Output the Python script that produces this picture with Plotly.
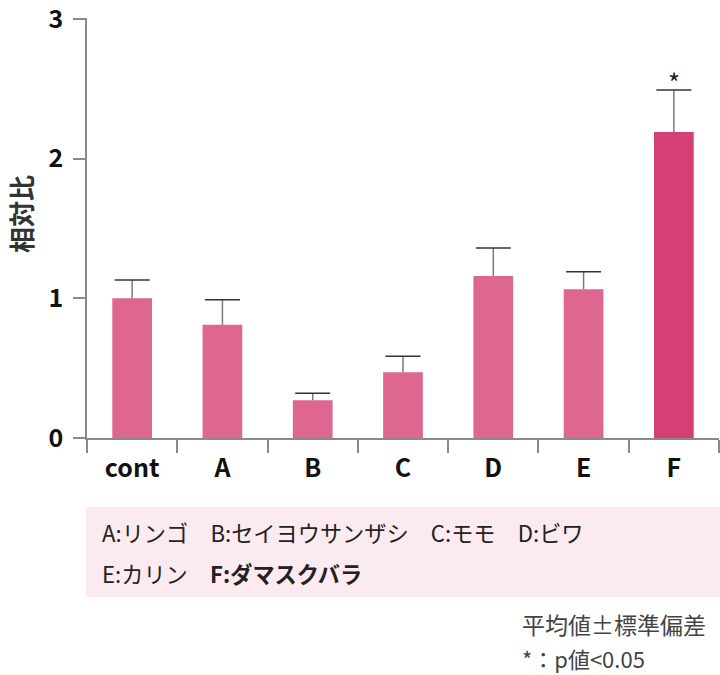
import plotly.graph_objects as go

categories = ["cont", "A", "B", "C", "D", "E", "F"]
means = [1.0, 0.81, 0.27, 0.47, 1.16, 1.065, 2.19]
sd_upper = [0.13, 0.18, 0.05, 0.115, 0.20, 0.125, 0.30]
bar_colors = ["#DD6791", "#DD6791", "#DD6791", "#DD6791", "#DD6791", "#DD6791", "#D43F76"]
y_ticks = [0, 1, 2, 3]

JP = "Noto Sans CJK JP"
L, T, B = 87, 18, 438
PW, PH = 632, 420

def px(xp):
    return (xp - L) / PW

def py(yp):
    return (B - yp) / PH

fig = go.Figure()
fig.add_trace(go.Bar(
    x=categories, y=means, width=0.44,
    marker=dict(color=bar_colors, line=dict(width=0)),
    error_y=dict(type="data", symmetric=False, array=sd_upper,
                 arrayminus=[0] * len(means), color="#7a7a7a", thickness=1.5, width=0),
))
# caps on top of error bars
tops = [m + s for m, s in zip(means, sd_upper)]
fig.add_trace(go.Scatter(
    x=categories, y=tops, mode="markers",
    marker=dict(symbol="line-ew", size=25, line=dict(width=1.5, color="#333")),
    hoverinfo="skip",
))

fig.add_annotation(x="F", y=tops[6], text="*", showarrow=False,
                   yanchor="middle", yshift=9, font=dict(family=JP, size=26, color="#222"))

# y-axis title
fig.add_annotation(xref="paper", yref="paper", x=px(20), y=py(214), textangle=-90,
                   text="<b>相対比</b>", showarrow=False, xanchor="center", yanchor="middle",
                   font=dict(family=JP, size=26, color="#333"))

# legend box
fig.add_shape(type="rect", xref="paper", yref="paper", x0=px(86), x1=px(722),
              y0=py(597), y1=py(507), fillcolor="#FBEAEF", line=dict(width=0), layer="below")

fig.add_annotation(xref="paper", yref="paper", x=px(100), y=py(532),
                   xanchor="left", yanchor="middle", showarrow=False,
                   text="A:リンゴ　B:セイヨウサンザシ　C:モモ　D:ビワ",
                   font=dict(family=JP, size=22.2, color="#222"))
fig.add_annotation(xref="paper", yref="paper", x=px(100), y=py(573),
                   xanchor="left", yanchor="middle", showarrow=False,
                   text="E:カリン　<b>F:ダマスクバラ</b>",
                   font=dict(family=JP, size=22.2, color="#222"))
fig.add_annotation(xref="paper", yref="paper", x=px(520), y=py(624),
                   xanchor="left", yanchor="middle", showarrow=False,
                   text="平均値±標準偏差",
                   font=dict(family=JP, size=23, color="#444"))
fig.add_annotation(xref="paper", yref="paper", x=px(520), y=py(658),
                   xanchor="left", yanchor="middle", showarrow=False,
                   text="*：p値<0.05",
                   font=dict(family=JP, size=22, color="#444"))

fig.update_layout(
    width=720, height=675,
    margin=dict(l=L, r=720 - L - PW, t=T, b=675 - B, pad=0),
    plot_bgcolor="white", paper_bgcolor="white",
    showlegend=False,
    xaxis=dict(type="category", range=[-0.5, 6.5], showline=True, linecolor="#8a8a8a",
               linewidth=1.5, ticks="outside", tickson="boundaries", ticklen=13,
               tickcolor="#8a8a8a", tickwidth=1.5, showgrid=False, automargin=False,
               ticklabelstandoff=7,
               tickfont=dict(family=JP, size=25, color="#111", weight="bold")),
    yaxis=dict(range=[0, 3.006], tickvals=y_ticks, showline=True, linecolor="#8a8a8a",
               linewidth=1.5, ticks="outside", ticklen=12, tickcolor="#8a8a8a",
               tickwidth=1.5, showgrid=False, zeroline=False, automargin=False,
               ticklabelstandoff=5, ticklabeloverflow="allow",
               tickfont=dict(family=JP, size=25, color="#111", weight="bold")),
)

fig.write_html("out.html", config={"displayModeBar": False},
               post_script="document.body.style.margin='0';document.body.style.overflow='hidden';")
